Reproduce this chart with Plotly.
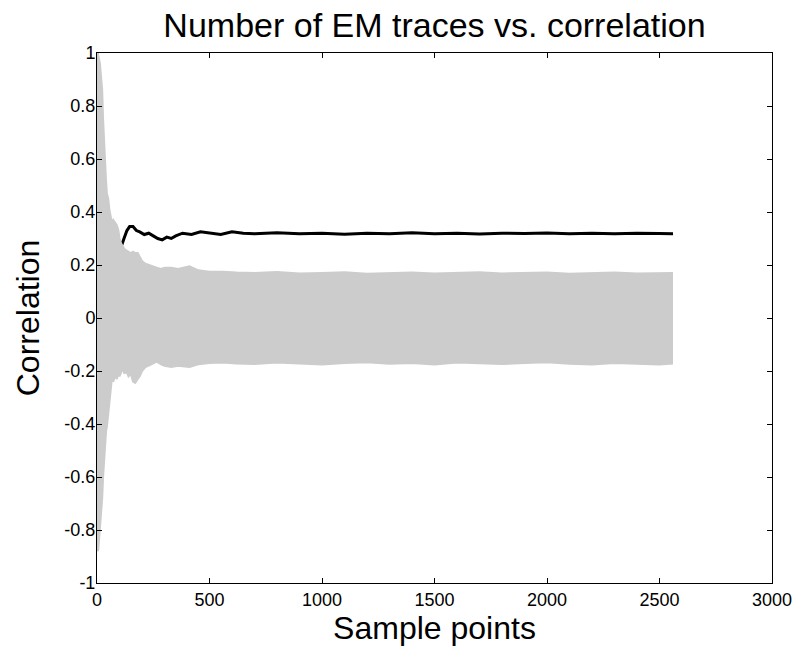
import plotly.graph_objects as go

# ---------------- data ----------------
# Envelope of the grey (wrong-key) correlation traces
env_x = [0, 2, 4, 6, 9, 13, 16, 20, 23, 27, 30, 35, 40, 44, 50, 55, 60, 66, 72, 80, 88, 95,
         100, 108, 115, 122, 130, 140, 150, 160, 170, 181, 190, 200, 215, 230, 250, 265,
         285, 300, 330, 360, 411, 450, 500, 558, 620, 700, 800, 900, 1000, 1100, 1200,
         1300, 1400, 1500, 1600, 1700, 1800, 1900, 2000, 2100, 2200, 2300, 2400, 2500, 2560]
env_upper = [1.0, 1.0, 1.0, 0.99, 0.98, 0.96, 0.93, 0.89, 0.86, 0.75, 0.68, 0.60, 0.52, 0.47,
             0.45, 0.41, 0.38, 0.36, 0.37, 0.36, 0.35, 0.33,
             0.30, 0.28, 0.27, 0.26, 0.255, 0.25, 0.245, 0.25, 0.245, 0.245, 0.23, 0.215, 0.205,
             0.20, 0.195, 0.19, 0.185, 0.19, 0.19, 0.185, 0.195, 0.18, 0.175, 0.175, 0.172,
             0.17, 0.174, 0.168, 0.17, 0.173, 0.167, 0.17, 0.172, 0.168, 0.17, 0.173, 0.168,
             0.17, 0.172, 0.167, 0.17, 0.172, 0.168, 0.171, 0.17]
env_lower = [-0.85, -0.88, -0.88, -0.87, -0.84, -0.80, -0.76, -0.72, -0.68, -0.60, -0.55,
             -0.47, -0.43, -0.41, -0.36, -0.31, -0.28, -0.23, -0.24, -0.22, -0.23, -0.21,
             -0.22, -0.20, -0.19, -0.21, -0.20, -0.22, -0.21, -0.24, -0.245, -0.23, -0.22,
             -0.20, -0.185, -0.18, -0.17, -0.165, -0.175, -0.18, -0.185, -0.18, -0.185,
             -0.175, -0.17, -0.168, -0.172, -0.174, -0.168, -0.171, -0.175, -0.17, -0.167,
             -0.173, -0.17, -0.175, -0.168, -0.171, -0.174, -0.17, -0.167, -0.173, -0.175,
             -0.17, -0.173, -0.175, -0.172]

# Black (correct-key) correlation trace
key_x = [93, 100, 110, 120, 133, 145, 160, 175, 190, 210, 230, 250, 270, 290, 310,
         330, 350, 380, 420, 460, 500, 550, 600, 650, 700, 800, 900, 1000, 1100, 1200,
         1300, 1400, 1500, 1600, 1700, 1800, 1900, 2000, 2100, 2200, 2300, 2400, 2500, 2560]
key_y = [0.30, 0.29, 0.275, 0.30, 0.33, 0.345, 0.345, 0.33, 0.325, 0.315, 0.32,
         0.31, 0.30, 0.295, 0.305, 0.30, 0.31, 0.32, 0.315, 0.325, 0.32, 0.315, 0.325,
         0.32, 0.318, 0.322, 0.318, 0.32, 0.316, 0.32, 0.318, 0.322, 0.318, 0.32, 0.317,
         0.32, 0.319, 0.321, 0.318, 0.32, 0.318, 0.32, 0.319, 0.318]

x_ticks = [0, 500, 1000, 1500, 2000, 2500, 3000]
y_ticks = [-1, -0.8, -0.6, -0.4, -0.2, 0, 0.2, 0.4, 0.6, 0.8, 1]
y_tick_text = ["-1", "-0.8", "-0.6", "-0.4", "-0.2", "0", "0.2", "0.4", "0.6", "0.8", "1"]

GREY = "#cccccc"
FONT = "Liberation Sans, Arial, Helvetica, sans-serif"

fig = go.Figure()

# correct key underneath (as in the reference, it emerges where the grey spikes end)
fig.add_trace(go.Scatter(x=key_x, y=key_y, mode="lines",
                         line=dict(color="black", width=3), hoverinfo="skip"))

# grey band of wrong-key traces
fig.add_trace(go.Scatter(x=env_x, y=env_lower, mode="lines",
                         line=dict(color=GREY, width=2), hoverinfo="skip"))
fig.add_trace(go.Scatter(x=env_x, y=env_upper, mode="lines", fill="tonexty",
                         fillcolor=GREY, line=dict(color=GREY, width=2), hoverinfo="skip"))

axis_common = dict(
    showline=True, linecolor="black", linewidth=1, mirror="allticks",
    ticks="inside", ticklen=5, tickcolor="black", tickwidth=1,
    showgrid=False, zeroline=False,
    tickfont=dict(family=FONT, size=18, color="black"),
)

fig.update_xaxes(range=[0, 3000], tickvals=x_ticks,
                 title=dict(text="Sample points", font=dict(family=FONT, size=32, color="black"),
                            standoff=6),
                 ticklabelstandoff=0, **axis_common)
fig.update_yaxes(range=[-1, 1], tickvals=y_ticks, ticktext=y_tick_text,
                 title=dict(text="Correlation", font=dict(family=FONT, size=32, color="black"),
                            standoff=15),
                 ticklabelstandoff=-3, **axis_common)

fig.update_layout(
    width=796, height=654,
    margin=dict(l=97, r=24, t=53, b=71, autoexpand=False),
    paper_bgcolor="white", plot_bgcolor="white",
    showlegend=False,
    title=dict(text="Number of EM traces vs. correlation",
               font=dict(family=FONT, size=34, color="black"),
               x=0.5, xanchor="center", xref="paper",
               y=0.962, yanchor="middle", yref="container"),
)

fig.write_html("out.html")
